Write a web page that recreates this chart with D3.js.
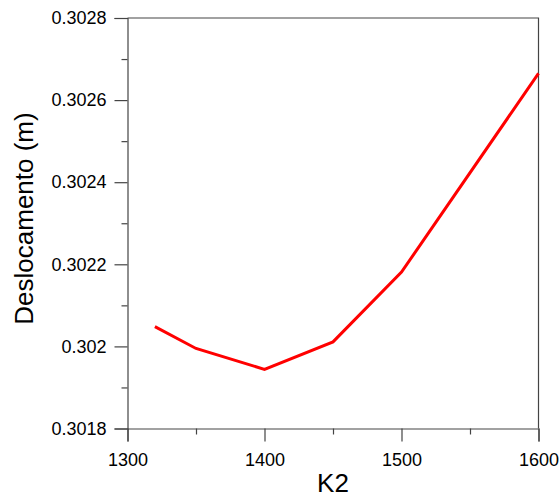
<!DOCTYPE html>
<html>
<head>
<meta charset="utf-8">
<script src="https://cdn.jsdelivr.net/npm/d3@7"></script>
<style>
  body { margin: 0; background: #fff; }
  text { font-family: "Liberation Sans", Arial, sans-serif; }
</style>
</head>
<body>
<div id="chart"></div>
<script>
// data
var k2 = [1320, 1350, 1400, 1450, 1500, 1600];
var desloc = [0.302048, 0.301995, 0.301944, 0.302011, 0.302181, 0.302665];
var xTicks = [1300, 1400, 1500, 1600];
var xMinor = [1350, 1450, 1550];
var yTicks = [0.3018, 0.302, 0.3022, 0.3024, 0.3026, 0.3028];
var yMinor = [0.3019, 0.3021, 0.3023, 0.3025, 0.3027];

var svgWidth = 560, svgHeight = 498;
var margin = { top: 18, right: 21.5, bottom: 69.5, left: 127.5 };
var w = svgWidth - margin.left - margin.right;
var h = svgHeight - margin.top - margin.bottom;

var svg = d3.select('#chart').append('svg')
    .attr('width', svgWidth)
    .attr('height', svgHeight);

var chart = svg.append('g')
    .attr('transform', 'translate(' + margin.left + ',' + margin.top + ')');

var xScale = d3.scaleLinear().domain([1300, 1600]).range([0, w]);
var yScale = d3.scaleLinear().domain([0.3018, 0.3028]).range([h, 0]);

// box (top + right)
chart.append('path')
    .attr('d', 'M0,0H' + w + 'V' + h)
    .attr('fill', 'none')
    .attr('stroke', '#444')
    .attr('stroke-width', 1.2);

// x axis
chart.append('g')
    .attr('transform', 'translate(0,' + h + ')')
    .call(d3.axisBottom(xScale).tickValues(xTicks).tickSize(13).tickPadding(12).tickFormat(d3.format('d')));
chart.append('g')
    .attr('transform', 'translate(0,' + h + ')')
    .call(d3.axisBottom(xScale).tickValues(xMinor).tickSize(6).tickFormat(''))
    .select('.domain').remove();

// y axis
chart.append('g')
    .call(d3.axisLeft(yScale).tickValues(yTicks).tickSize(13).tickPadding(8).tickFormat(d => String(+d.toFixed(4))));
chart.append('g')
    .call(d3.axisLeft(yScale).tickValues(yMinor).tickSize(6).tickFormat(''))
    .select('.domain').remove();

chart.selectAll('.domain').attr('stroke', '#444').attr('stroke-width', 1.2);
chart.selectAll('.tick line').attr('stroke', '#444').attr('stroke-width', 1.2);
chart.selectAll('.tick text')
    .attr('font-size', 18)
    .attr('fill', '#000')
    .style('font-family', '"Liberation Sans", Arial, sans-serif');

// axis titles
svg.append('text')
    .attr('x', margin.left + w / 2)
    .attr('y', 492)
    .attr('text-anchor', 'middle')
    .attr('font-size', 26)
    .text('K2');

svg.append('text')
    .attr('transform', 'translate(33,218.5) rotate(-90)')
    .attr('text-anchor', 'middle')
    .attr('font-size', 26)
    .text('Deslocamento (m)');

// line
var line = d3.line()
    .x((d, i) => xScale(k2[i]))
    .y(d => yScale(d));

chart.append('path')
    .datum(desloc)
    .attr('d', line)
    .attr('fill', 'none')
    .attr('stroke', '#ff0000')
    .attr('stroke-width', 3);
</script>
</body>
</html>
